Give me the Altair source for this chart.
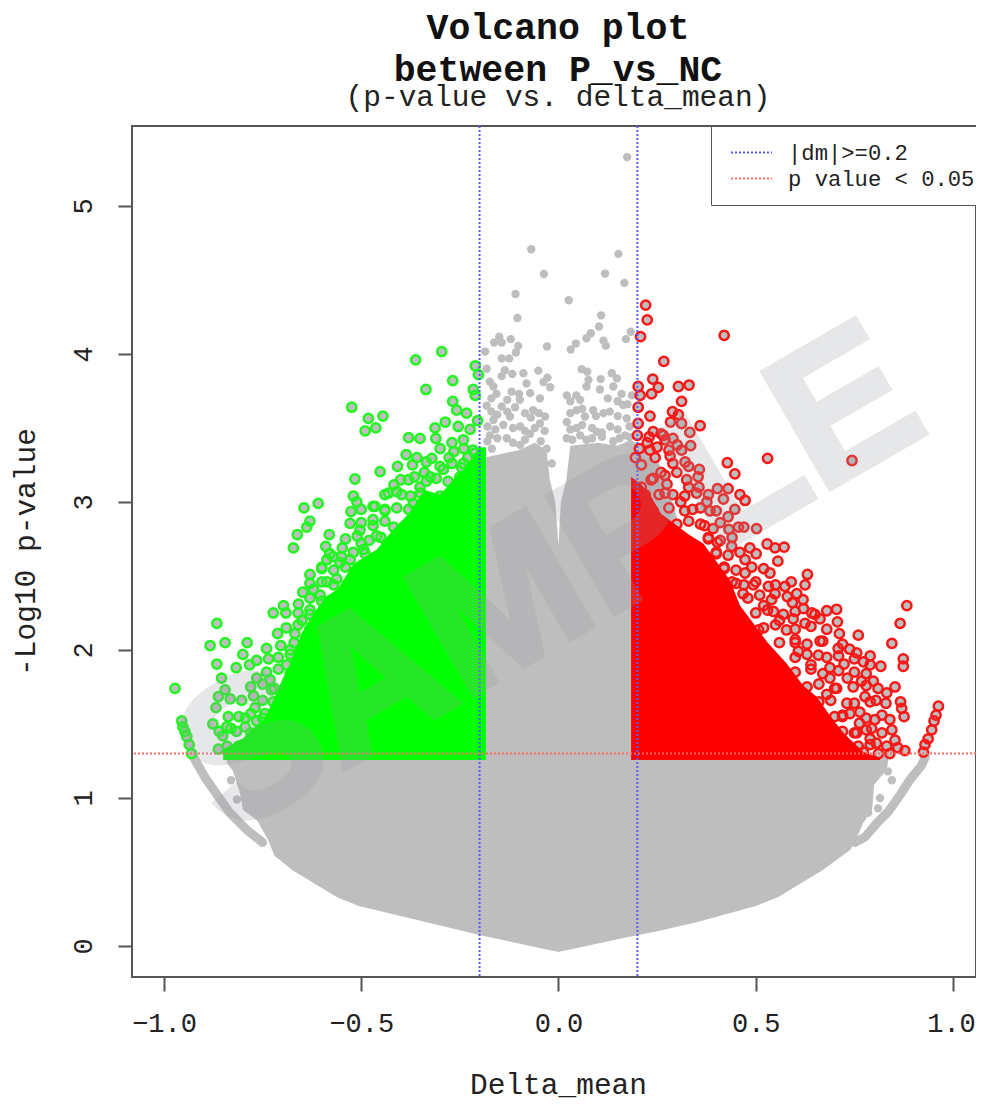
import altair as alt
import pandas as pd

# gray solid mass: x, lower edge, upper edge
mass_x = [-0.841,-0.825,-0.807,-0.80,-0.764,-0.736,-0.72,-0.673,-0.561,-0.506,-0.2,-0.19,-0.186,-0.1,-0.06,-0.03,-0.022,-0.008,0,
          0.006,0.02,0.03,0.1,0.15,0.184,0.25,0.3,0.35,0.5,0.556,0.668,0.74,0.757,0.772,0.795,0.80,0.832,0.836]
mass_low = [1.24,1.18,1.03,0.92,0.85,0.716,0.61,0.51,0.33,0.27,0.074,0.068,0.065,0.017,-0.006,-0.023,-0.028,-0.035,-0.04,
            -0.036,-0.029,-0.023,0.017,0.045,0.064,0.1,0.13,0.16,0.27,0.33,0.51,0.65,0.736,0.83,0.92,1.09,1.19,1.257]
mass_top = [1.28,1.28,1.28,1.28,1.28,1.28,1.28,1.28,1.28,1.28,1.28,1.28,3.3,3.35,3.4,3.35,3.15,3.0,2.7,
            3.0,3.15,3.38,3.4,3.38,3.42,3.3,2.9,1.28,1.28,1.28,1.28,1.28,1.28,1.28,1.28,1.28,1.28,1.28]

arc_left_x = [-0.926,-0.895,-0.865,-0.833,-0.79,-0.75]
arc_left_y = [1.28,1.135,1.02,0.90,0.784,0.70]
arc_right_x = [0.752,0.777,0.807,0.835,0.866,0.89,0.921,0.93]
arc_right_y = [0.70,0.736,0.83,0.905,1.02,1.12,1.223,1.28]

gray_pts = [(0.174,5.33),(-0.069,4.707),(0.152,4.676),(-0.037,4.54),(0.118,4.543),(0.167,4.48),(-0.109,4.405),(0.026,4.363),
(-0.104,4.243),(0.108,4.261),(0.103,4.185),(0.082,4.14),(0.071,4.106),(0.183,4.15),(0.171,4.10),(0.114,4.09),(0.12,4.056),
(0.044,4.07),(0.031,4.03),(-0.029,4.05),(-0.15,4.117),(-0.163,4.077),(-0.144,4.077),(-0.121,4.10),(-0.102,4.054),(-0.108,4.01),
(-0.186,4.016),(-0.144,3.97),(-0.125,3.97),(-0.182,3.90),(-0.136,3.89),(-0.144,3.85),(-0.117,3.865),(-0.089,3.87),(-0.051,3.887),
(-0.028,3.84),(-0.038,3.81),(-0.081,3.80),(-0.021,3.775),(0.059,3.897),(0.073,3.88),(0.076,3.825),(0.071,3.78),(0.107,3.83),
(0.135,3.87),(0.148,3.835),(0.105,3.76),(0.139,3.78),(0.16,3.73),(-0.174,3.813),(-0.165,3.78),(-0.119,3.745),(-0.157,3.73),
(-0.072,3.735),(-0.047,3.70),(-0.098,3.69),(0.021,3.72),(0.055,3.69),(0.186,3.72),(-0.182,3.65),(-0.144,3.645),(-0.11,3.64),
(-0.064,3.62),(-0.034,3.577),(0.088,3.62),(0.114,3.60),(0.164,3.655),(0.173,3.565),(0.046,3.62),(0.021,3.54),(0.067,3.577),
(-0.165,3.554),(-0.123,3.577),(-0.097,3.51),(-0.047,3.53),(0.131,3.51),(0.046,3.50),(0.097,3.475),(0.169,3.45),(-0.174,3.45),
(-0.072,3.46),(-0.131,3.43),(-0.03,3.36),(0.021,3.43),(0.139,3.41),(0.071,3.42),(-0.169,3.36),(-0.097,3.385),(-0.059,3.33),
(-0.123,3.307),(-0.017,3.26),
(-0.17,3.61),(-0.155,3.59),(-0.13,3.61),(-0.085,3.60),(-0.07,3.57),(-0.05,3.60),(0.03,3.60),(0.06,3.63),(0.095,3.58),(0.13,3.61),(0.15,3.58),
(-0.18,3.51),(-0.16,3.49),(-0.14,3.52),(-0.115,3.50),(-0.085,3.48),(-0.06,3.50),(-0.035,3.48),(0.03,3.49),(0.06,3.52),(0.085,3.50),(0.11,3.47),(0.15,3.49),(0.18,3.51),
(-0.18,3.41),(-0.155,3.43),(-0.115,3.40),(-0.085,3.42),(-0.045,3.41),(0.035,3.42),(0.055,3.45),(0.085,3.43),(0.11,3.44),(0.155,3.43),(0.18,3.44),
(-0.17,3.70),(-0.13,3.69),(-0.10,3.73),(0.03,3.68),(0.045,3.72),(0.125,3.70),(0.15,3.68),(0.175,3.66),
(0.815,1.0),(0.835,1.18),(0.845,1.12),(0.81,0.93),(0.785,0.90),(-0.83,1.12),(-0.815,0.99),(-0.78,0.93),(-0.82,1.25)]

green_x = [-0.85,-0.80,-0.78,-0.75,-0.73,-0.70,-0.68,-0.65,-0.62,-0.59,-0.56,-0.52,-0.49,-0.46,-0.42,-0.38,-0.34,-0.30,-0.26,-0.22,-0.20,-0.184]
green_top = [1.33,1.40,1.46,1.52,1.62,1.80,1.91,2.12,2.25,2.36,2.41,2.58,2.63,2.68,2.81,2.92,3.08,3.05,3.17,3.28,3.37,3.37]

green_pts = [(-0.296,4.016),(-0.362,3.96),(-0.211,3.92),(-0.203,3.86),(-0.268,3.82),(-0.336,3.76),(-0.216,3.76),(-0.211,3.72),
(-0.268,3.68),(-0.258,3.62),(-0.233,3.60),(-0.524,3.64),(-0.445,3.58),(-0.482,3.565),(-0.463,3.50),(-0.49,3.48),(-0.287,3.54),
(-0.313,3.50),(-0.254,3.51),(-0.38,3.435),(-0.351,3.43),(-0.311,3.43),(-0.241,3.42),(-0.386,3.32),(-0.359,3.30),(-0.321,3.295),
(-0.277,3.30),(-0.408,3.24),(-0.452,3.205),(-0.516,3.155),(-0.351,3.10),(-0.417,3.115),(-0.431,3.06),(-0.397,3.05),(-0.52,3.04),
(-0.609,2.99),(-0.645,2.96),(-0.511,3.0),(-0.526,2.935),(-0.465,2.97),(-0.63,2.87),(-0.638,2.83),(-0.528,2.855),(-0.662,2.78),
(-0.581,2.78),(-0.672,2.69),(-0.503,2.81),(-0.548,2.69),(-0.571,2.63),(-0.587,2.61),(-0.528,2.61),(-0.554,2.59),(-0.63,2.51),
(-0.562,2.48),(-0.587,2.46),(-0.621,2.41),(-0.648,2.39),(-0.604,2.37),(-0.659,2.31),(-0.697,2.30),(-0.723,2.25),(-0.691,2.25),
(-0.63,2.24),(-0.866,2.18),(-0.668,2.11),(-0.712,2.11),(-0.845,2.05),(-0.883,2.03),(-0.789,2.05),(-0.704,2.03),(-0.74,2.01),
(-0.80,1.97),(-0.765,1.93),(-0.735,1.94),(-0.866,1.905),(-0.817,1.88),(-0.783,1.90),(-0.689,1.90),(-0.765,1.81),(-0.731,1.80),
(-0.854,1.81),(-0.972,1.74),(-0.845,1.73),(-0.862,1.685),(-0.832,1.67),(-0.773,1.69),(-0.727,1.73),(-0.691,1.66),(-0.803,1.66),
(-0.868,1.61),(-0.769,1.61),(-0.723,1.65),(-0.837,1.55),(-0.794,1.54),(-0.744,1.57),(-0.876,1.50),(-0.841,1.48),(-0.765,1.52),
(-0.851,1.42),(-0.816,1.45),(-0.794,1.48),(-0.756,1.44),(-0.862,1.33),(-0.811,1.35),(-0.773,1.37),(-0.955,1.52),(-0.952,1.48),
(-0.947,1.45),(-0.942,1.415),(-0.936,1.36),(-0.93,1.30),(-0.494,2.68),(-0.461,2.77),(-0.435,2.72),(-0.418,2.83),(-0.368,2.99),
(-0.325,3.17),(-0.292,3.22),(-0.241,3.26),(-0.224,3.49),(-0.216,3.35),(-0.30,3.04),(-0.393,2.83),(-0.47,2.88),(-0.44,2.95),
(-0.38,3.15),(-0.34,3.2),(-0.27,3.4),(-0.205,3.55),(-0.23,3.3),(-0.59,2.7),(-0.5,2.72),(-0.6,2.55),(-0.65,2.2),(-0.68,2.0),
(-0.30,3.36),(-0.265,3.34),(-0.24,3.36),(-0.212,3.33),(-0.37,3.25),(-0.335,3.27),(-0.30,3.24),(-0.27,3.26),(-0.245,3.23),(-0.21,3.26),
(-0.40,3.15),(-0.365,3.17),(-0.335,3.14),(-0.31,3.16),(-0.28,3.14),(-0.25,3.17),(-0.44,3.05),(-0.41,3.07),(-0.375,3.04),(-0.35,3.06),
(-0.50,2.95),(-0.47,2.97),(-0.44,2.94),(-0.41,2.96),(-0.38,2.95),(-0.50,2.86),(-0.47,2.84),(-0.44,2.87),(-0.54,2.75),(-0.51,2.77),
(-0.48,2.74),(-0.45,2.76),(-0.58,2.65),(-0.55,2.63),(-0.52,2.66),(-0.49,2.65),(-0.60,2.56),(-0.57,2.54),(-0.54,2.56),(-0.63,2.45),
(-0.60,2.46),(-0.57,2.44),(-0.63,2.35),(-0.60,2.33),(-0.66,2.25),(-0.63,2.27),(-0.69,2.15),(-0.66,2.17),(-0.63,2.14),(-0.67,2.05),
(-0.64,2.03),(-0.71,1.95),(-0.68,1.97),(-0.74,1.85),(-0.71,1.87),(-0.68,1.84),(-0.78,1.75),(-0.75,1.77),(-0.72,1.74),(-0.75,1.66),
(-0.81,1.55),(-0.78,1.57),(-0.75,1.54),(-0.86,1.45),(-0.83,1.47),(-0.78,1.44),(-0.74,1.46),(-0.84,1.35),(-0.80,1.36),(-0.76,1.34)]

red_x = [0.184,0.21,0.232,0.26,0.291,0.33,0.367,0.40,0.435,0.46,0.494,0.53,0.578,0.62,0.654,0.69,0.722,0.773,0.815]
red_top = [3.17,3.12,3.05,2.92,2.86,2.78,2.72,2.60,2.47,2.30,2.18,2.05,1.91,1.76,1.685,1.55,1.44,1.31,1.27]

red_pts = [(0.221,4.33),(0.225,4.23),(0.208,4.117),(0.42,4.126),(0.267,3.95),(0.239,3.83),(0.253,3.774),(0.202,3.78),(0.304,3.78),
(0.331,3.79),(0.236,3.73),(0.312,3.68),(0.207,3.72),(0.202,3.64),(0.289,3.61),(0.232,3.58),(0.304,3.59),(0.284,3.54),(0.312,3.53),
(0.359,3.515),(0.333,3.47),(0.266,3.45),(0.301,3.385),(0.335,3.38),(0.202,3.53),(0.24,3.475),(0.232,3.35),(0.283,3.31),(0.312,3.35),
(0.321,3.27),(0.428,3.265),(0.53,3.295),(0.744,3.28),(0.357,3.22),(0.447,3.19),(0.354,3.17),(0.403,3.09),(0.43,3.09),(0.356,3.10),
(0.418,3.02),(0.46,3.05),(0.473,3.01),(0.376,3.0),(0.447,2.95),(0.43,2.90),(0.384,2.94),(0.432,2.815),(0.456,2.83),(0.47,2.83),
(0.502,2.82),(0.392,2.82),(0.403,2.727),(0.439,2.70),(0.529,2.716),(0.549,2.69),(0.572,2.695),(0.485,2.69),(0.501,2.65),(0.473,2.61),
(0.556,2.60),(0.473,2.52),(0.536,2.52),(0.631,2.51),(0.625,2.44),(0.494,2.44),(0.532,2.43),(0.574,2.43),(0.468,2.38),(0.549,2.38),
(0.604,2.38),(0.593,2.32),(0.883,2.30),(0.621,2.28),(0.68,2.265),(0.705,2.275),(0.642,2.25),(0.545,2.26),(0.663,2.21),(0.707,2.19),
(0.866,2.18),(0.595,2.21),(0.625,2.18),(0.712,2.11),(0.578,2.135),(0.507,2.135),(0.76,2.10),(0.663,2.06),(0.845,2.045),(0.709,2.01),
(0.738,2.005),(0.756,1.98),(0.659,1.965),(0.608,1.99),(0.68,1.95),(0.874,1.94),(0.874,1.89),(0.817,1.89),(0.773,1.92),(0.724,1.905),
(0.79,1.90),(0.688,1.88),(0.732,1.81),(0.798,1.79),(0.768,1.79),(0.688,1.81),(0.747,1.75),(0.853,1.75),(0.832,1.71),(0.777,1.685),
(0.705,1.74),(0.867,1.65),(0.805,1.66),(0.83,1.64),(0.731,1.64),(0.87,1.605),(0.876,1.55),(0.963,1.62),(0.957,1.56),(0.952,1.52),
(0.946,1.46),(0.937,1.40),(0.929,1.36),(0.925,1.31),(0.739,1.57),(0.764,1.58),(0.84,1.53),(0.802,1.53),(0.763,1.505),(0.845,1.46),
(0.794,1.47),(0.756,1.44),(0.853,1.39),(0.79,1.40),(0.832,1.35),(0.878,1.32),(0.806,1.37),(0.811,1.30),(0.773,1.31),(0.722,1.30),
(0.195,3.3),(0.21,3.25),(0.225,3.4),(0.245,3.3),(0.26,3.2),(0.275,3.12),(0.29,3.05),(0.21,3.1),(0.235,3.15),(0.255,3.05),(0.31,3.0),
(0.27,3.42),(0.3,3.2),(0.33,3.1),(0.34,2.95),(0.36,2.85),(0.38,2.75),(0.4,2.65),(0.42,2.55),(0.45,2.45),(0.52,2.3),(0.56,2.2),(0.6,2.05),
(0.64,1.9),(0.68,1.7),(0.72,1.55),
(0.20,3.45),(0.23,3.44),(0.26,3.46),(0.29,3.43),(0.205,3.36),(0.25,3.37),(0.28,3.35),(0.29,3.26),(0.33,3.24),(0.24,3.16),(0.27,3.18),(0.325,3.15),
(0.22,3.05),(0.27,3.06),(0.32,3.04),(0.35,3.06),(0.38,3.05),(0.20,2.96),(0.24,2.94),(0.28,2.96),(0.32,2.94),(0.36,2.96),(0.40,2.94),
(0.30,2.85),(0.33,2.87),(0.37,2.84),(0.41,2.86),(0.38,2.76),(0.41,2.74),(0.44,2.76),(0.40,2.66),(0.43,2.64),(0.46,2.66),(0.42,2.56),(0.45,2.54),(0.49,2.56),(0.52,2.55),
(0.44,2.46),(0.47,2.44),(0.50,2.46),(0.55,2.44),(0.59,2.46),(0.48,2.35),(0.51,2.37),(0.54,2.34),(0.58,2.36),(0.62,2.34),(0.50,2.25),(0.53,2.27),(0.57,2.24),(0.60,2.26),(0.65,2.24),
(0.52,2.15),(0.55,2.17),(0.60,2.14),(0.64,2.16),(0.68,2.14),(0.56,2.05),(0.60,2.07),(0.63,2.04),(0.67,2.06),(0.72,2.04),(0.60,1.95),(0.63,1.97),(0.71,1.96),(0.75,1.94),(0.79,1.96),
(0.60,1.85),(0.64,1.87),(0.67,1.84),(0.71,1.86),(0.75,1.85),(0.78,1.84),(0.63,1.75),(0.66,1.77),(0.70,1.74),(0.78,1.76),(0.81,1.74),(0.66,1.65),(0.69,1.66),(0.75,1.64),(0.79,1.65),
(0.70,1.55),(0.72,1.56),(0.78,1.54),(0.82,1.56),(0.72,1.45),(0.75,1.44),(0.78,1.46),(0.82,1.44),(0.76,1.35),(0.79,1.36),(0.86,1.34),(0.75,1.30),(0.84,1.30)]

x_ticks = [-1.0,-0.5,0.0,0.5,1.0]
y_ticks = [0,1,2,3,4,5]
x_domain = [-1.081,1.0583]
y_domain = [-0.2095,5.54]
v_lines = [-0.2,0.2]
h_lines = [1.3]
legend_labels = ["|dm|>=0.2","p value < 0.05"]
legend_colors = ["#5a5aff","#ff6a6a"]
MONO = "Liberation Mono"

X = alt.X("x:Q", scale=alt.Scale(domain=x_domain, nice=False, zero=False), title="Delta_mean",
          axis=alt.Axis(values=x_ticks, format=".1f", grid=False, domain=False, tickSize=14, tickWidth=2, tickColor="#555",
                        labelFont=MONO, labelFontSize=27, labelColor="#222", labelPadding=19, labelFlush=False,
                        labelOffset=alt.expr("datum.value == 1 ? -2 : 0"),
                        labelOverlap=False, titleFont=MONO, titleFontSize=29.5, titleFontWeight="normal", titleColor="#222",
                        titlePadding=34, titleX=426))
Y = alt.Y("y:Q", scale=alt.Scale(domain=y_domain, nice=False, zero=False), title="-Log10 p-value",
          axis=alt.Axis(values=y_ticks, format="d", grid=False, domain=False, tickSize=14, tickWidth=2, tickColor="#555",
                        labelFont=MONO, labelFontSize=27, labelColor="#222", labelAngle=270, labelAlign="center", labelBaseline="bottom",
                        labelPadding=21, labelOverlap=False, titleFont=MONO, titleFontSize=29.5, titleFontWeight="normal",
                        titleColor="#222", titlePadding=29))
x_plain = alt.X("x:Q")
y_plain = alt.Y("y:Q")

mass = alt.Chart(pd.DataFrame({"x":mass_x,"y":mass_top,"y2":mass_low})).mark_area(color="#bebebe").encode(x=X, y=Y, y2="y2:Q")
arc1 = alt.Chart(pd.DataFrame({"x":arc_left_x,"y":arc_left_y})).mark_line(color="#bebebe", strokeWidth=9, strokeCap="round").encode(x=x_plain, y=y_plain)
arc2 = alt.Chart(pd.DataFrame({"x":arc_right_x,"y":arc_right_y})).mark_line(color="#bebebe", strokeWidth=9, strokeCap="round").encode(x=x_plain, y=y_plain)
gray = alt.Chart(pd.DataFrame(gray_pts, columns=["x","y"])).mark_circle(color="#bebebe", size=70, opacity=1).encode(x=x_plain, y=y_plain)
green_df = pd.DataFrame(green_pts, columns=["x","y"])
red_df = pd.DataFrame(red_pts, columns=["x","y"])
g_fill = alt.Chart(green_df).mark_circle(color="#bebebe", size=66, opacity=1).encode(x=x_plain, y=y_plain)
r_fill = alt.Chart(red_df).mark_circle(color="#bebebe", size=66, opacity=1).encode(x=x_plain, y=y_plain)
g_area = alt.Chart(pd.DataFrame({"x":green_x,"y":green_top,"y2":[1.257]*len(green_x)})).mark_area(color="#00ff00").encode(x=x_plain, y=y_plain, y2="y2:Q")
g_ring = alt.Chart(green_df).mark_point(filled=False, stroke="#22f522", strokeWidth=2.5, size=86, opacity=1).encode(x=x_plain, y=y_plain)
r_area = alt.Chart(pd.DataFrame({"x":red_x,"y":red_top,"y2":[1.257]*len(red_x)})).mark_area(color="#ff0000").encode(x=x_plain, y=y_plain, y2="y2:Q")
r_ring = alt.Chart(red_df).mark_point(filled=False, stroke="#f81818", strokeWidth=2.5, size=86, opacity=1).encode(x=x_plain, y=y_plain)

color = alt.Color("label:N", scale=alt.Scale(domain=legend_labels, range=legend_colors),
                  legend=alt.Legend(orient="none", legendX=579, legendY=0, title=None, fillColor="white", strokeColor="#555",
                                    symbolType="M-2,0H2", symbolSize=420, symbolDash=[2,2], symbolStrokeWidth=2, symbolOffset=14,
                                    labelFont=MONO, labelFontSize=22.2, labelColor="#222", labelOffset=25, labelLimit=320, rowPadding=3, padding=15))
v_rule = alt.Chart(pd.DataFrame({"x":v_lines,"label":[legend_labels[0]]*2})).mark_rule(strokeDash=[2,2], strokeWidth=2).encode(x=x_plain, color=color)
h_rule = alt.Chart(pd.DataFrame({"y":h_lines,"label":[legend_labels[1]]})).mark_rule(strokeDash=[2,2], strokeWidth=2).encode(y=y_plain, color=color)

mark = alt.Chart(pd.DataFrame({"x":[-0.02],"y":[2.46],"t":["SAMPLE"]})).mark_text(
    font="Liberation Sans", fontWeight="bold", fontSize=195, angle=330, color="#9a9ca4", opacity=0.24, align="center", baseline="middle",
    stroke="#9a9ca4", strokeWidth=6
).encode(x=x_plain, y=y_plain, text="t:N")

chart = alt.layer(mass, arc1, arc2, gray, g_fill, r_fill, g_ring, g_area, r_ring, r_area, v_rule, h_rule, mark).properties(
    width=844, height=851,
    padding={"left":124,"top":118,"right":0,"bottom":126},
    autosize=alt.AutoSizeParams(type="none"),
    title=alt.TitleParams(text=["Volcano plot","between P_vs_NC"], subtitle="(p-value vs. delta_mean)",
                          font=MONO, fontSize=36.5, fontWeight="bold", color="#111", lineHeight=42, anchor="middle", dx=4,
                          subtitleFont=MONO, subtitleFontSize=29.5, subtitleColor="#222", subtitlePadding=-6, offset=14)
).configure_view(stroke="#555", strokeWidth=2)

chart.save("out.html", embed_options={"renderer": "svg", "actions": False})
